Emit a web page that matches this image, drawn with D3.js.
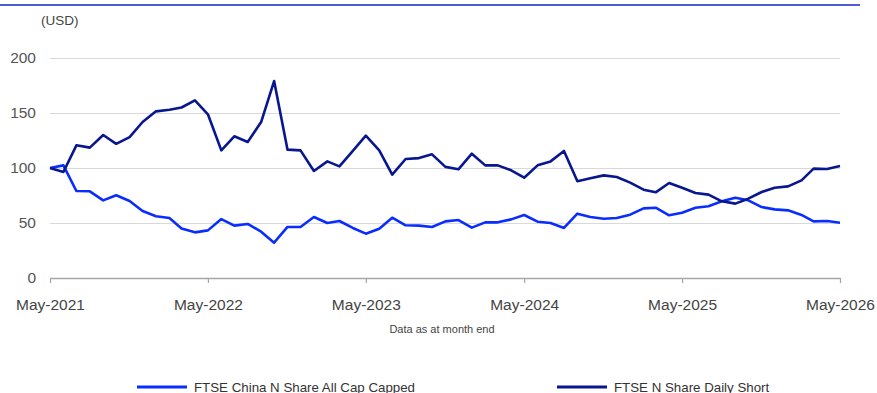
<!DOCTYPE html>
<html>
<head>
<meta charset="utf-8">
<script src="https://cdn.jsdelivr.net/npm/d3@7"></script>
<style>
    body { margin: 0; background: #fff; }
    svg { display: block; font-family: "Liberation Sans", Arial, sans-serif; }
</style>
</head>
<body>
<svg id="chart" width="877" height="393"></svg>
<script>
// monthly index levels, May-2021 .. May-2026 (61 month ends)
var startMonth = "2021-05";
var seriesNames = ["FTSE China N Share All Cap Capped", "FTSE N Share Daily Short"];
var allCapValues = [
    100, 102.4, 79.1, 78.8, 70.6, 75.2, 70, 60.9, 56.1, 54.5,
    45, 41.5, 43.3, 53.6, 47.6, 49.1, 42.1, 32.1, 46.4, 46.4,
    55.5, 50, 51.8, 45.5, 40.3, 44.8, 54.8, 47.9, 47.6, 46.4,
    51.5, 52.7, 45.8, 50.6, 50.6, 53.3, 57.3, 51.2, 50, 45.5,
    58.5, 55.5, 53.9, 54.5, 57.6, 63.3, 63.9, 57, 59.4, 63.9,
    65.2, 69.7, 73, 70.6, 64.5, 62.4, 61.5, 57.3, 51.5, 51.8,
    50.3
];
var dailyShortValues = [
    100, 96.4, 120.6, 118.5, 130, 122, 128, 141.8, 151.5, 153,
    155, 161.5, 148.8, 116, 128.8, 123.6, 141.8, 179, 116.7, 116,
    97.3, 106, 101.5, 115.5, 129.4, 116, 94, 108.2, 109, 112.4,
    101, 98.8, 113, 102.4, 102.4, 97.9, 91.2, 102.4, 106, 115.5,
    87.9, 90.6, 93.3, 91.8, 86.7, 80.3, 77.9, 86.4, 82.1, 77.3,
    75.8, 69.7, 67.6, 72.1, 78.2, 82.1, 83.3, 88.8, 99.4, 99.1,
    101.8
];
var yTicks = [0, 50, 100, 150, 200];
var xTickLabels = ["May-2021", "May-2022", "May-2023", "May-2024", "May-2025", "May-2026"];
var colors = ["#0a2dff", "#08178f"];

var svg = d3.select("#chart");
var margin = {top: 58, left: 50};
var chartWidth = 790;
var chartHeight = 220;

var parseMonth = d3.timeParse("%Y-%m");
var start = parseMonth(startMonth);
var dates = allCapValues.map(function(d, i){ return d3.timeMonth.offset(start, i); });
var parseLabel = d3.timeParse("%b-%Y");
var xTickDates = xTickLabels.map(function(s){ return parseLabel(s); });

var xScale = d3.scaleTime()
    .domain([dates[0], dates[dates.length - 1]])
    .range([0, chartWidth]);

var yScale = d3.scaleLinear()
    .domain([0, 200])
    .range([chartHeight, 0]);

// header rule + unit
svg.append("line")
    .attr("x1", 0).attr("x2", 860)
    .attr("y1", 5).attr("y2", 5)
    .style("stroke", "#1428c8")
    .style("stroke-width", 1.5);

svg.append("text")
    .attr("x", 41).attr("y", 25)
    .style("font-size", "13.5px")
    .style("fill", "#444")
    .text("(USD)");

var g = svg.append("g")
    .attr("transform", "translate(" + margin.left + "," + margin.top + ")");

// y axis with gridlines
var yAxisG = g.append("g")
    .call(d3.axisLeft(yScale).tickValues(yTicks).tickSize(-chartWidth).tickPadding(14));
yAxisG.select(".domain").remove();
yAxisG.selectAll("line").style("stroke", "#d9d9d9").style("stroke-width", 1);
yAxisG.selectAll("text")
    .style("font-size", "15.5px")
    .style("font-family", "'Liberation Sans', Arial, sans-serif")
    .style("fill", "#555");

// x axis
var xAxisG = g.append("g")
    .attr("transform", "translate(0," + chartHeight + ")")
    .call(d3.axisBottom(xScale)
        .tickValues(xTickDates)
        .tickFormat(d3.timeFormat("%b-%Y"))
        .tickSize(5)
        .tickSizeOuter(0)
        .tickPadding(16));
xAxisG.select(".domain").style("stroke", "#a6a6a6").style("stroke-width", 1.5);
xAxisG.selectAll("line").style("stroke", "#a6a6a6").style("stroke-width", 1.2);
xAxisG.selectAll("text")
    .style("font-size", "15.5px")
    .style("font-family", "'Liberation Sans', Arial, sans-serif")
    .style("fill", "#444");

svg.append("text")
    .attr("x", 442).attr("y", 333)
    .attr("text-anchor", "middle")
    .style("font-size", "11px")
    .style("fill", "#444")
    .text("Data as at month end");

// lines
var line = d3.line()
    .x(function(d, i){ return xScale(dates[i]); })
    .y(function(d){ return yScale(d); });

[allCapValues, dailyShortValues].forEach(function(vals, k){
    g.append("path")
        .datum(vals)
        .attr("d", line)
        .style("fill", "none")
        .style("stroke", colors[k])
        .style("stroke-width", 2.6)
        .style("stroke-linejoin", "round");
});

// legend
var legendX = [137, 557];
var legend = svg.selectAll("g.legend")
    .data(seriesNames)
    .enter()
    .append("g")
    .attr("class", "legend")
    .attr("transform", function(d, i){ return "translate(" + legendX[i] + ",387)"; });

legend.append("line")
    .attr("x1", 0).attr("x2", 50)
    .style("stroke", function(d, i){ return colors[i]; })
    .style("stroke-width", 3);

legend.append("text")
    .attr("x", 57).attr("y", 4.5)
    .style("font-size", "13.3px")
    .style("fill", "#333")
    .text(function(d){ return d; });
</script>
</body>
</html>
